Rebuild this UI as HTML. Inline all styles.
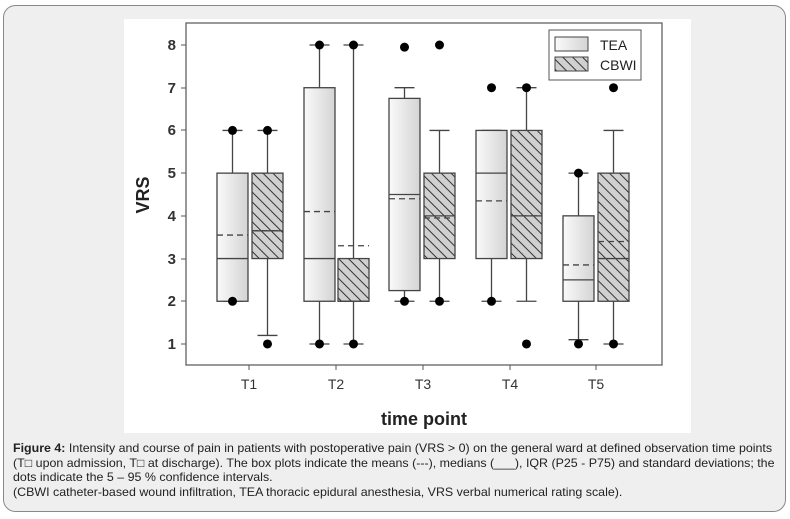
<!DOCTYPE html>
<html><head><style>
body{margin:0;background:#fff;}
.wrap{position:relative;width:790px;height:519px;overflow:hidden;font-family:"Liberation Sans",sans-serif;}
.cap{position:absolute;left:13px;top:441px;white-space:nowrap;font-family:"Liberation Sans",sans-serif;font-size:12px;line-height:14.6px;color:#222;transform:scaleX(1.035);transform-origin:0 0;}
</style></head><body><div class="wrap">
<svg width="790" height="519" style="position:absolute;left:0;top:0">
<defs>
<linearGradient id="g" x1="0" x2="1"><stop offset="0" stop-color="#fafafa"/><stop offset="1" stop-color="#d4d4d4"/></linearGradient>
<pattern id="h" width="7" height="7" patternUnits="userSpaceOnUse" patternTransform="rotate(-45)"><rect width="7" height="7" fill="#d0d0d0"/><line x1="0" y1="0" x2="0" y2="7" stroke="#333" stroke-width="2"/></pattern>
</defs>
<rect x="3.5" y="5.5" width="782" height="506" rx="12" fill="#efefef" stroke="#888"/>
<rect x="124" y="19" width="567" height="414" fill="#fff"/>
<rect x="186" y="23" width="476" height="342" fill="none" stroke="#555" stroke-width="1.2"/>
<g font-size="15" fill="#333" text-anchor="end" font-weight="bold">
<text x="176" y="50">8</text><text x="176" y="93">7</text><text x="176" y="135">6</text><text x="176" y="178">5</text><text x="176" y="221">4</text><text x="176" y="264">3</text><text x="176" y="306">2</text><text x="176" y="349">1</text>
</g>
<g stroke="#555"><line x1="186" x2="181" y1="45" y2="45"/><line x1="186" x2="181" y1="88" y2="88"/><line x1="186" x2="181" y1="130" y2="130"/><line x1="186" x2="181" y1="173" y2="173"/><line x1="186" x2="181" y1="216" y2="216"/><line x1="186" x2="181" y1="259" y2="259"/><line x1="186" x2="181" y1="301" y2="301"/><line x1="186" x2="181" y1="344" y2="344"/>
<line y1="365" y2="370" x1="249" x2="249"/><line y1="365" y2="370" x1="336" x2="336"/><line y1="365" y2="370" x1="423" x2="423"/><line y1="365" y2="370" x1="510" x2="510"/><line y1="365" y2="370" x1="596" x2="596"/></g>
<g font-size="14" fill="#333" text-anchor="middle"><text x="249" y="389">T1</text><text x="336" y="389">T2</text><text x="423" y="389">T3</text><text x="510" y="389">T4</text><text x="596" y="389">T5</text></g>
<text x="424" y="425" font-size="18" font-weight="bold" text-anchor="middle" fill="#222">time point</text>
<text transform="translate(149,195) rotate(-90)" font-size="18" font-weight="bold" text-anchor="middle" fill="#222">VRS</text>
<g id="boxes" stroke="#444" stroke-width="1.3"></g>
<rect x="549" y="30" width="92" height="50" fill="#fff" stroke="#555"/>
<rect x="555" y="37" width="33" height="14" fill="url(#g)" stroke="#444"/>
<rect x="555" y="57" width="33" height="14" fill="url(#h)" stroke="#444"/>
<text x="600" y="50" font-size="14" fill="#222">TEA</text>
<text x="600" y="70" font-size="14" fill="#222">CBWI</text>
</svg>
<div class="cap"><b>Figure 4:</b> Intensity and course of pain in patients with postoperative pain (VRS &gt; 0) on the general ward at defined observation time points<br>(T□ upon admission, T□ at discharge). The box plots indicate the means (---), medians (___), IQR (P25 - P75) and standard deviations; the<br>dots indicate the 5 – 95 % confidence intervals.<br>(CBWI catheter-based wound infiltration, TEA thoracic epidural anesthesia, VRS verbal numerical rating scale).</div>
<script>
var Y=v=>45+(8-v)*42.71;
var d=[
[217,0,2,5,3,3.55,2,6,[6,2]],[252,1,3,5,3.65,3.65,1.2,6,[6,1]],
[304,0,2,7,3,4.1,1,8,[8,1]],[338,1,2,3,2,3.3,1,8,[8,1]],
[389,0,2.25,6.75,4.5,4.4,2,7,[7.95,2]],[424,1,3,5,4,3.95,2,6,[8,2]],
[476,0,3,6,5,4.35,2,6,[7,2]],[511,1,3,6,4,4,2,7,[7,1]],
[563,0,2,4,2.5,2.85,1.1,5,[5,1]],[598,1,2,5,3,3.4,1,6,[7,1]]];
var s='';
d.forEach(b=>{var x=b[0],w=31,c=x+w/2;
s+=`<line x1="${c}" x2="${c}" y1="${Y(b[7])}" y2="${Y(b[3])}"/><line x1="${c}" x2="${c}" y1="${Y(b[2])}" y2="${Y(b[6])}"/>`;
s+=`<line x1="${c-10}" x2="${c+10}" y1="${Y(b[7])}" y2="${Y(b[7])}"/><line x1="${c-10}" x2="${c+10}" y1="${Y(b[6])}" y2="${Y(b[6])}"/>`;
s+=`<rect x="${x}" y="${Y(b[3])}" width="${w}" height="${Y(b[2])-Y(b[3])}" fill="${b[1]?'url(#h)':'url(#g)'}"/>`;
s+=`<line x1="${x}" x2="${x+w}" y1="${Y(b[4])}" y2="${Y(b[4])}"/><line x1="${x}" x2="${x+w}" y1="${Y(b[5])}" y2="${Y(b[5])}" stroke-dasharray="6,4"/>`;
b[8].forEach(v=>s+=`<circle cx="${c}" cy="${Y(v)}" r="4.5" fill="#000" stroke="none"/>`);});
document.getElementById('boxes').innerHTML=s;
</script>
</div></body></html>
